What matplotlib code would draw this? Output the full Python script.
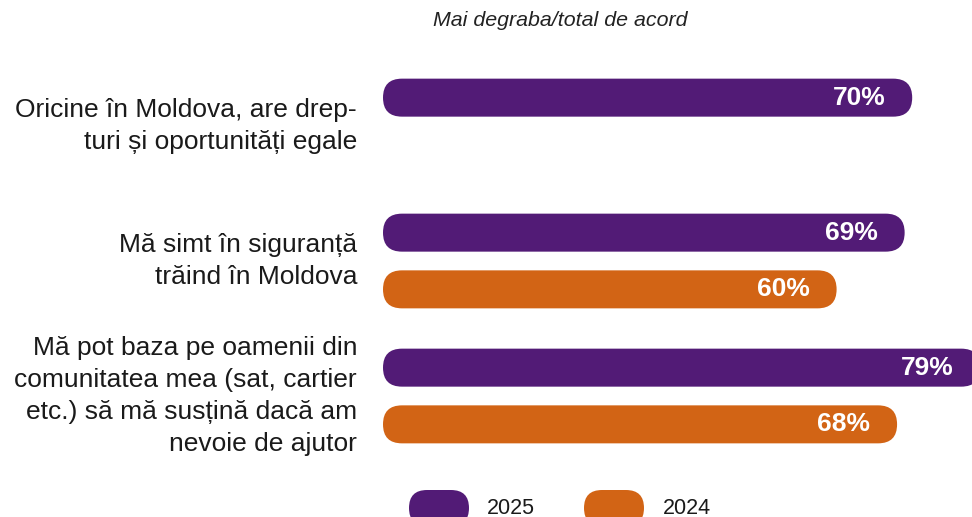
import matplotlib
matplotlib.use("Agg")
import matplotlib.pyplot as plt
from matplotlib.patches import FancyBboxPatch

plt.rcParams['font.family'] = ['Liberation Sans', 'DejaVu Sans']

categories = [
    "Oricine în Moldova, are drep-\nturi și oportunități egale",
    "Mă simt în siguranță\ntrăind în Moldova",
    "Mă pot baza pe oamenii din\ncomunitatea mea (sat, cartier\netc.) să mă susțină dacă am\nnevoie de ajutor",
]
values_2025 = [70, 69, 79]
values_2024 = [None, 60, 68]
series_names = ["2025", "2024"]
colors = ["#521B76", "#D26415"]
title = "Mai degraba/total de acord"

W, H, DPI = 972, 517, 100
fig = plt.figure(figsize=(W / DPI, H / DPI), dpi=DPI)

# layout in pixels
ax_left_px = 383
px_per_pct = 7.56
first_center_px = 126
group_px = 135
bar_h_px = 38
offset = 0.21

ax = fig.add_axes([ax_left_px / W, 0, (W - ax_left_px) / W, 1])
ax.set_xlim(0, (W - ax_left_px) / px_per_pct)
ax.set_ylim((H - first_center_px) / group_px, -first_center_px / group_px)
ax.axis('off')

bar_h = bar_h_px / group_px
r_x = (bar_h_px / 2) / px_per_pct
aspect = (bar_h_px / 2 / group_px) / r_x

for i, cat in enumerate(categories):
    for vals, col, off in ((values_2025, colors[0], -offset), (values_2024, colors[1], offset)):
        v = vals[i]
        if v is None:
            continue
        yc = i + off
        p = FancyBboxPatch((0, yc - bar_h / 2), v, bar_h,
                           boxstyle=f"round,pad=0,rounding_size={r_x}",
                           mutation_aspect=aspect, facecolor=col, edgecolor='none')
        ax.add_patch(p)
        ax.text(v - 27 / px_per_pct, yc, f"{v}%", ha='right', va='center',
                color='white', fontsize=19, fontweight='bold')
    ax.text(-26 / px_per_pct, i, cat, ha='right', va='center', ma='right',
            fontsize=19, color='#1a1a1a', linespacing=1.42, clip_on=False)

fig.text(560 / W, 1 - 21 / H, title, ha='center', va='center', fontsize=15.4,
         style='italic', color='#222222')

# legend
leg_y = H - 508
for name, col, x0, tx in ((series_names[0], colors[0], 409, 487), (series_names[1], colors[1], 584, 663)):
    p = FancyBboxPatch((x0, leg_y - 18), 60, 36, boxstyle="round,pad=0,rounding_size=18",
                       facecolor=col, edgecolor='none', transform=None)
    fig.patches.append(p)
    fig.text(tx / W, leg_y / H, name, ha='left', va='center', fontsize=15.5, color='#1a1a1a')

fig.savefig("out.png", dpi=DPI)
